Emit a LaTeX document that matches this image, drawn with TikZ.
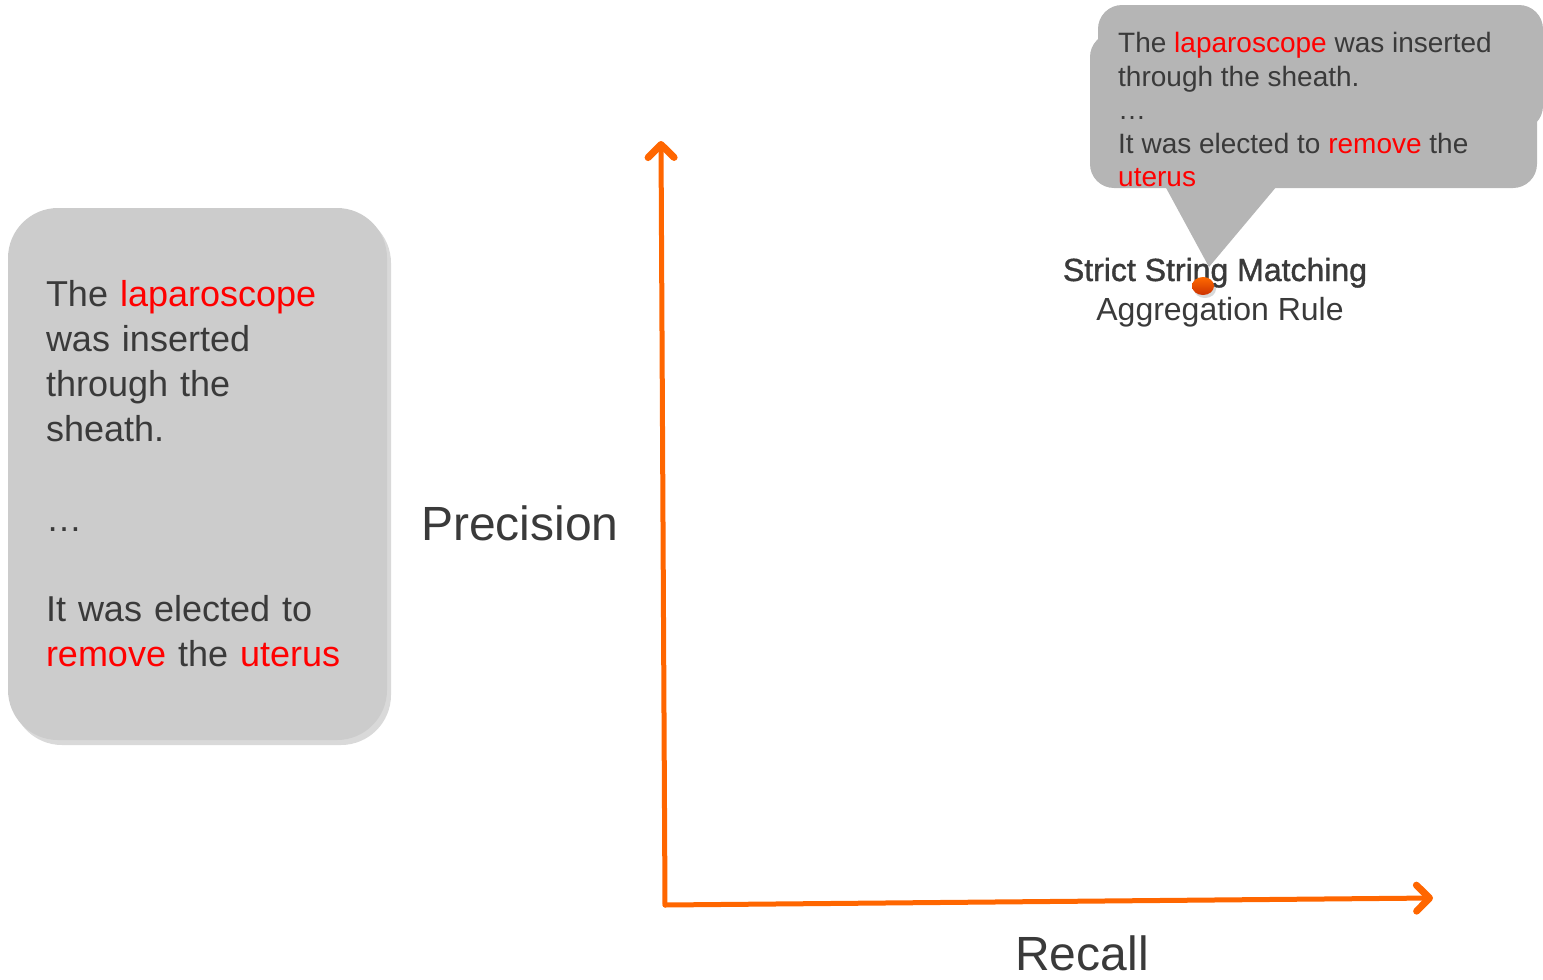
\documentclass[tikz,border=0pt]{standalone}
\usepackage{fontspec}
\setmainfont{Liberation Sans}
\usetikzlibrary{arrows.meta,shadows,shapes.geometric}

\definecolor{axisorange}{RGB}{255,102,0}
\definecolor{dottop}{RGB}{255,105,0}
\definecolor{dotbottom}{RGB}{205,50,0}
\definecolor{txtgray}{RGB}{58,58,58}
\definecolor{boxgray}{RGB}{204,204,204}
\definecolor{bubblegray}{RGB}{181,181,181}
\newcommand{\hl}[1]{\textcolor{red}{#1}}

\begin{document}
\begin{tikzpicture}[x=1pt,y=-1pt,
    axis/.style={line width=5pt, draw=axisorange, line cap=round,
        -{Straight Barb[length=13pt,width=26pt,round,line width=7pt]}},
    ctxbox/.style={fill=boxgray, rounded corners=50pt, minimum width=379pt,
        minimum height=532pt, text width=303pt, align=left, inner sep=0pt,
        text=txtgray, font=\fontsize{36}{45}\selectfont,
        drop shadow={shadow xshift=4pt, shadow yshift=-5pt, opacity=.3}},
    axislabel/.style={text=txtgray, font=\fontsize{48}{56}\selectfont, inner sep=0pt},
    pointlabel/.style={text=txtgray, font=\fontsize{32}{37}\selectfont, inner sep=0pt}]
    \useasboundingbox (0,0) rectangle (1543,980);

    % sentence box on the left
    \node[ctxbox] (ctx) at (197.5,474) {The \hl{laparoscope}\\ was inserted\\ through the\\ sheath.\\[45pt] …\\[45pt] It was elected to\\ \hl{remove} the \hl{uterus}};

    % axes
    \coordinate (origin) at (665,905);
    \coordinate (ytop) at (661,141);
    \coordinate (xend) at (1433,898);
    \draw[axis] (origin) -- (ytop);
    \draw[axis] (origin) -- (xend);
    \node[axislabel, anchor=base] (prec) at (520,540) {Precision};
    \node[axislabel, anchor=base] (rec) at (1082,970) {Recall};

    % the rule
    \node[pointlabel, font=\fontsize{32}{37}\selectfont\addfontfeature{FakeBold=1.2},
        anchor=base] (ssm) at (1215,281) {Strict String Matching};
    \node[pointlabel, anchor=base] (aggr) at (1220,320) {Aggregation Rule};

    % callout
    \fill[bubblegray, rounded corners=24pt] (1098,5) rectangle (1543,130);
    \fill[bubblegray, rounded corners=24pt] (1090,33) rectangle (1537,188);
    \fill[bubblegray] (1165,186) -- (1277,186) -- (1209,267) -- cycle;
    \node[anchor=north west, align=left, inner sep=0pt, text=txtgray,
        font=\fontsize{28}{33.5}\selectfont] (callout) at (1118,32.5)
        {The \hl{laparoscope} was inserted\\ through the sheath.\\ …\\ It was elected to \hl{remove} the\\ \hl{uterus}};

    \node[ellipse, minimum width=22pt, minimum height=18pt, inner sep=0pt,
        top color=dottop, bottom color=dotbottom,
        drop shadow={shadow xshift=2pt, shadow yshift=-3pt, opacity=.3}] (rule) at (1203,286) {};
\end{tikzpicture}
\end{document}
